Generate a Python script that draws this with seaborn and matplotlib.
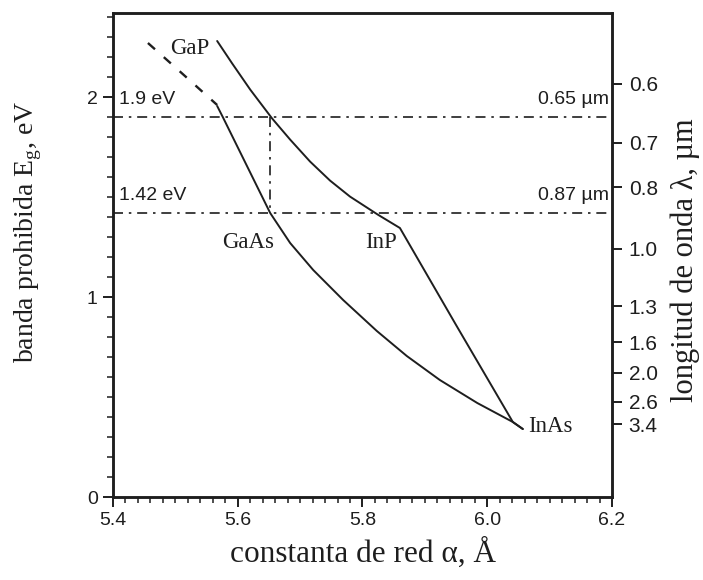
import numpy as np
import pandas as pd
import matplotlib
matplotlib.use("Agg")
import matplotlib.pyplot as plt
import seaborn as sns
from matplotlib.ticker import MultipleLocator

# ---- data ----
# GaP (dashed) -> GaAs -> InAs (lower curve)
dashed_x = [5.456, 5.51, 5.567]
dashed_y = [2.27, 2.12, 1.96]
lower_x = [5.567, 5.576, 5.652, 5.684, 5.721, 5.769, 5.823, 5.871, 5.924, 5.984, 6.041, 6.057]
lower_y = [1.955, 1.90, 1.42, 1.27, 1.135, 0.985, 0.83, 0.705, 0.585, 0.47, 0.375, 0.34]
# GaP -> InP -> InAs (upper curve)
upper_x = [5.567, 5.591, 5.620, 5.655, 5.684, 5.716, 5.748, 5.780, 5.825, 5.860, 5.950, 6.041, 6.057]
upper_y = [2.28, 2.168, 2.037, 1.893, 1.787, 1.677, 1.582, 1.502, 1.411, 1.345, 0.86, 0.375, 0.34]

energy_lines = [1.9, 1.42]
energy_labels = ["1.9 eV", "1.42 eV"]
wl_line_labels = ["0.65 µm", "0.87 µm"]
vline_x = 5.652

wl_ticks = [0.6, 0.7, 0.8, 1.0, 1.3, 1.6, 2.0, 2.6, 3.4]
wl_tick_labels = ["0.6", "0.7", "0.8", "1.0", "1.3", "1.6", "2.0", "2.6", "3.4"]

x_ticks = [5.4, 5.6, 5.8, 6.0, 6.2]
y_ticks = [0, 1, 2]

materials = ["GaP", "GaAs", "InP", "InAs"]
mat_x = [5.491, 5.575, 5.804, 6.065]
mat_y = [2.24, 1.275, 1.275, 0.35]

# ---- plotting ----
sns.set_style("ticks")
plt.rcParams['font.family'] = ['Liberation Sans', 'DejaVu Sans']
SERIF = ["Liberation Serif", "DejaVu Serif"]
INK = "#1e1e1e"

fig = plt.figure(figsize=(7.03, 5.80), dpi=100)
ax = fig.add_axes([113/703, 1-497/580, (612-113)/703, (497-13)/580])

df_low = pd.DataFrame({"x": lower_x, "y": lower_y})
df_up = pd.DataFrame({"x": upper_x, "y": upper_y})
df_d = pd.DataFrame({"x": dashed_x, "y": dashed_y})

sns.lineplot(data=df_low, x="x", y="y", sort=False, color=INK, lw=1.4, ax=ax)
sns.lineplot(data=df_up, x="x", y="y", sort=False, color=INK, lw=1.4, ax=ax)
sns.lineplot(data=df_d, x="x", y="y", sort=False, color=INK, lw=1.7,
             linestyle=(0, (4, 5)), ax=ax)

dashdot = (0, (6, 3.5, 1.5, 3.5))
for e in energy_lines:
    ax.axhline(e, color=INK, lw=1.2, linestyle=dashdot)
ax.plot([vline_x, vline_x], [energy_lines[0], energy_lines[1]], color=INK,
        lw=1.2, linestyle=dashdot)

ax.set_xlim(5.4, 6.2)
ax.set_ylim(0, 2.42)
ax.set_xticks(x_ticks)
ax.set_xticklabels([f"{v:.1f}" for v in x_ticks])
ax.set_yticks(y_ticks)
ax.xaxis.set_minor_locator(MultipleLocator(0.02))
ax.yaxis.set_minor_locator(MultipleLocator(0.1))
ax.tick_params(axis="both", which="major", direction="out", length=7, width=1.4,
               labelsize=14, colors=INK, pad=4)
ax.tick_params(axis="both", which="minor", direction="out", length=4, width=1.1,
               colors=INK)
for s in ax.spines.values():
    s.set_visible(True)
    s.set_linewidth(1.8)
    s.set_color(INK)
ax.set_xlabel("constanta de red α, Å", family=SERIF, fontsize=22.5, color=INK)
ax.xaxis.set_label_coords(0.5, -0.083)
ax.set_ylabel("banda prohibida E$_\\mathregular{g}$, eV", family=SERIF, fontsize=20,
              color=INK)
ax.yaxis.set_label_coords(-0.138, 0.547)

ax2 = ax.twinx()
ax2.set_ylim(0, 2.42)
ax2.set_yticks([1.24 / w for w in wl_ticks])
ax2.set_yticklabels(wl_tick_labels)
ax2.tick_params(axis="y", direction="out", length=7, width=1.4, labelsize=15,
                colors=INK, pad=5)
for s in ax2.spines.values():
    s.set_linewidth(1.8)
    s.set_color(INK)
ax2.set_ylabel("longitud de onda λ, µm", family=SERIF, fontsize=22, color=INK)
ax2.yaxis.set_label_coords(1.118, 0.49)

# annotations
for e, lab in zip(energy_lines, energy_labels):
    ax.text(5.41, e + 0.045, lab, fontsize=14, color=INK, va="bottom", ha="left")
for e, lab in zip(energy_lines, wl_line_labels):
    ax.text(6.195, e + 0.045, lab, fontsize=14, color=INK, va="bottom", ha="right")
for m, mx, my in zip(materials, mat_x, mat_y):
    ax.text(mx, my, m, family=SERIF, fontsize=16.5, color=INK, ha="left", va="center")

fig.savefig("out.png", dpi=100)
